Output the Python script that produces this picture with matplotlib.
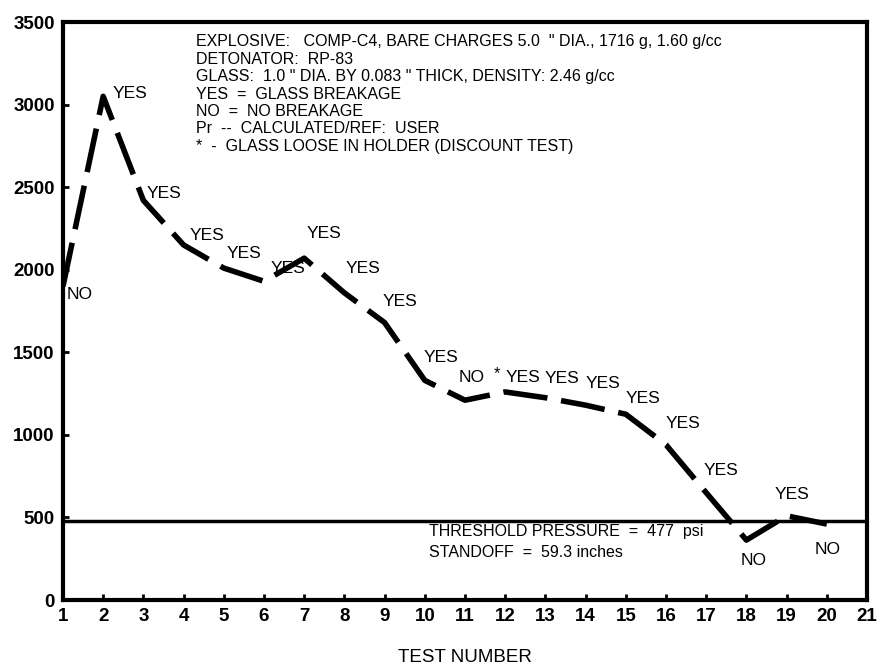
import matplotlib
matplotlib.use("Agg")
import matplotlib.pyplot as plt

plt.rcParams['font.family'] = ['Liberation Sans', 'DejaVu Sans']

# test results
tests = list(range(1, 21))
pressure = [1900, 3050, 2420, 2150, 2010, 1930, 2070, 1860, 1680, 1330,
            1210, 1260, 1225, 1180, 1125, 940, 650, 363, 510, 460]

# label text and where it sits (left edge x, centre y)
labels = ["NO", "YES", "YES", "YES", "YES", "YES", "YES", "YES", "YES", "YES",
          "NO", "YES", "YES", "YES", "YES", "YES", "YES", "NO", "YES", "NO"]
label_x = [1.1, 2.23, 3.07, 4.15, 5.07, 6.16, 7.05, 8.04, 8.95, 9.98,
           10.85, 12.0, 12.99, 14.0, 15.0, 15.99, 16.93, 17.85, 18.7, 19.7]
label_y = [1850, 3070, 2460, 2210, 2100, 2010, 2220, 2010, 1805, 1470,
           1350, 1345, 1344, 1314, 1223, 1071, 787, 242, 636, 303]

threshold = 477

info_lines = [
    'EXPLOSIVE:   COMP-C4, BARE CHARGES 5.0  " DIA., 1716 g, 1.60 g/cc',
    'DETONATOR:  RP-83',
    'GLASS:  1.0 " DIA. BY 0.083 " THICK, DENSITY: 2.46 g/cc',
    'YES  =  GLASS BREAKAGE',
    'NO  =  NO BREAKAGE',
    'Pr  --  CALCULATED/REF:  USER',
    '*  -  GLASS LOOSE IN HOLDER (DISCOUNT TEST)',
]

fig = plt.figure(figsize=(8.82, 6.67), dpi=100)
ax = fig.add_axes([0.0714, 0.1004, 0.9116, 0.8666])

ax.plot(tests, pressure, color='black', linewidth=4, linestyle=(0, (8, 2.5)),
        solid_capstyle='butt', dash_capstyle='butt')
ax.axhline(threshold, color='black', linewidth=2.5)

for t, lx, ly in zip(labels, label_x, label_y):
    ax.text(lx, ly, t, fontsize=12.5, va='center', ha='left')
ax.text(11.72, 1370, '*', fontsize=12, va='center', ha='left')

ax.text(4.31, 3425, "\n".join(info_lines), fontsize=11.5, va='top', ha='left',
        linespacing=1.2)
ax.text(10.1, 412, "THRESHOLD PRESSURE  =  477  psi", fontsize=11.5, va='center', ha='left')
ax.text(10.1, 290, "STANDOFF  =  59.3 inches", fontsize=11.5, va='center', ha='left')

ax.set_xlim(1, 21)
ax.set_ylim(0, 3500)
ax.set_xticks(range(1, 22))
ax.set_yticks(range(0, 3501, 500))
ax.tick_params(direction='in', length=4, width=2, labelsize=13.5, pad=6)
for lbl in ax.get_xticklabels() + ax.get_yticklabels():
    lbl.set_fontweight('bold')
ax.set_xlabel("TEST NUMBER", fontsize=13.5, labelpad=17)
for s in ax.spines.values():
    s.set_linewidth(3)

fig.savefig("out.png", dpi=100)
